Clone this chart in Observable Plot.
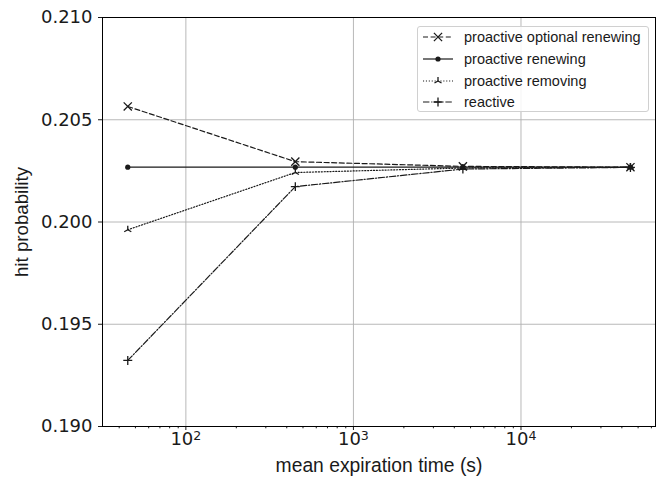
<!DOCTYPE html>
<html><head><meta charset="utf-8">
<script src="https://cdn.jsdelivr.net/npm/d3@7"></script>
<script src="https://cdn.jsdelivr.net/npm/@observablehq/plot@0.6"></script>
<style>
body{margin:0;background:#fff}
#wrap{position:relative;width:663px;height:480px}
#legend{position:absolute;left:417px;top:26px;width:230px;height:84px;border:1px solid #d0d0d0;border-radius:3px;background:rgba(255,255,255,0.85);font-family:"Liberation Sans",Arial,sans-serif;font-size:14.5px;color:#1a1a1a}
.row{position:absolute;left:0;height:20px;display:flex;align-items:center}
.row svg{margin-left:4px;margin-right:10px}
</style>
</head><body><div id="wrap"><div id="legend"></div></div>
<script>
// ---- data ----
const expirationTimes = [45, 450, 4500, 45000];
const seriesNames = ["proactive optional renewing", "proactive renewing", "proactive removing", "reactive"];
const optionalRenewing = [0.20565, 0.20295, 0.20272, 0.20268];
const renewing = [0.20268, 0.20268, 0.20268, 0.20268];
const removing = [0.19962, 0.20242, 0.20264, 0.20268];
const reactive = [0.19323, 0.20173, 0.20259, 0.20267];
const yTicks = [0.190, 0.195, 0.200, 0.205, 0.210];
const xTicks = [100, 1000, 10000];
const xMinorTicks = [40,50,60,70,80,90,200,300,400,500,600,700,800,900,2000,3000,4000,5000,6000,7000,8000,9000,20000,30000,40000,50000,60000];
const xLabel = "mean expiration time (s)";
const yLabel = "hit probability";

// ---- styles ----
const ink = "#1a1a1a";
const triUp = {draw(ctx, size){ const r = Math.sqrt(size/Math.PI)*1.2;
  ctx.moveTo(0,0); ctx.lineTo(0,-r);
  ctx.moveTo(0,0); ctx.lineTo(-r*0.866, r*0.5);
  ctx.moveTo(0,0); ctx.lineTo(r*0.866, r*0.5);}};
const styles = [
  {dash:"5,2.6", symbol:"times", r:3.8, fill:"none", stroke:ink},
  {dash:null, symbol:"circle", r:2.6, fill:ink, stroke:"none"},
  {dash:"1.1,1.8", symbol:triUp, r:3.4, fill:"none", stroke:ink},
  {dash:"6.4,1.8,1.2,1.8", symbol:"plus", r:3.0, fill:"none", stroke:ink}
];
const valuesList = [optionalRenewing, renewing, removing, reactive];
const series = seriesNames.map((name, k) => expirationTimes.map((t, i) => ({t, p: valuesList[k][i], s: name})));

const marks = [
  Plot.gridX(xTicks, {stroke:"#b0b0b0", strokeOpacity:1, strokeWidth:0.9}),
  Plot.gridY(yTicks, {stroke:"#b0b0b0", strokeOpacity:1, strokeWidth:0.9}),
  Plot.axisY({ticks:yTicks, tickFormat:d3.format(".3f"), tickSize:4, tickPadding:6, fontSize:18, fontFamily:"DejaVu Sans", label:null, color:ink}),
  Plot.axisX({ticks:xTicks, tickFormat:d => "10^" + Math.round(Math.log10(d)), tickSize:4, tickPadding:2, fontSize:18, fontFamily:"DejaVu Sans", label:null, color:ink}),
  Plot.axisX({ticks:xMinorTicks, tickFormat:() => "", tickSize:2.3, label:null, color:ink}),
  Plot.text([yLabel], {frameAnchor:"left", textAnchor:"middle", lineAnchor:"middle", text:d => d, rotate:-90, dx:-80, fontSize:18.7, fontFamily:"Liberation Sans", fill:ink}),
  Plot.text([xLabel], {frameAnchor:"bottom", textAnchor:"middle", lineAnchor:"middle", text:d => d, dy:39, fontSize:19.3, fontFamily:"Liberation Sans", fill:ink})
];
series.forEach((data, k) => {
  const st = styles[k];
  marks.push(Plot.line(data, {x:"t", y:"p", stroke:ink, strokeWidth:1.2, strokeDasharray:st.dash}));
});
series.forEach((data, k) => {
  const st = styles[k];
  marks.push(Plot.dot(data, {x:"t", y:"p", symbol:st.symbol, r:st.r, fill:st.fill, stroke:st.stroke, strokeWidth:1.3}));
});
marks.push(Plot.frame({stroke:"#000", strokeWidth:1}));

const chart = Plot.plot({
  width:663, height:480,
  marginLeft:102, marginRight:8, marginTop:17, marginBottom:54,
  x:{type:"log", domain:[31.8, 63500]},
  y:{domain:[0.19, 0.21]},
  style:{background:"#fff"},
  marks
});
document.getElementById("wrap").prepend(chart);

// superscript exponents on x tick labels
d3.select(chart).selectAll('g[aria-label="x-axis tick label"] text').each(function(){
  const t = d3.select(this);
  const s = t.text();
  if (!s.includes("^")) return;
  const [b, e] = s.split("^");
  t.text(null);
  t.append("tspan").text(b);
  t.append("tspan").attr("dy","-0.42em").attr("font-size","12.6px").text(e);
});

// legend
const leg = d3.select("#legend");
const rowTops = [0, 22, 43.5, 65];
seriesNames.forEach((name, k) => {
  const st = styles[k];
  const row = leg.append("div").attr("class","row").style("top", (rowTops[k]) + "px");
  const svg = row.append("svg").attr("width",32).attr("height",20);
  svg.append("line").attr("x1",1).attr("x2",31).attr("y1",10).attr("y2",10)
    .attr("stroke",ink).attr("stroke-width",1.2).attr("stroke-dasharray", st.dash);
  const sym = typeof st.symbol === "string" ? {times:d3.symbolTimes, plus:d3.symbolPlus, circle:d3.symbolCircle}[st.symbol] : st.symbol;
  svg.append("path").attr("transform","translate(16,10)")
    .attr("d", d3.symbol(sym, Math.PI*st.r*st.r)())
    .attr("fill", st.fill).attr("stroke", st.stroke).attr("stroke-width",1.3);
  row.append("span").text(name);
});
</script>
</body></html>
